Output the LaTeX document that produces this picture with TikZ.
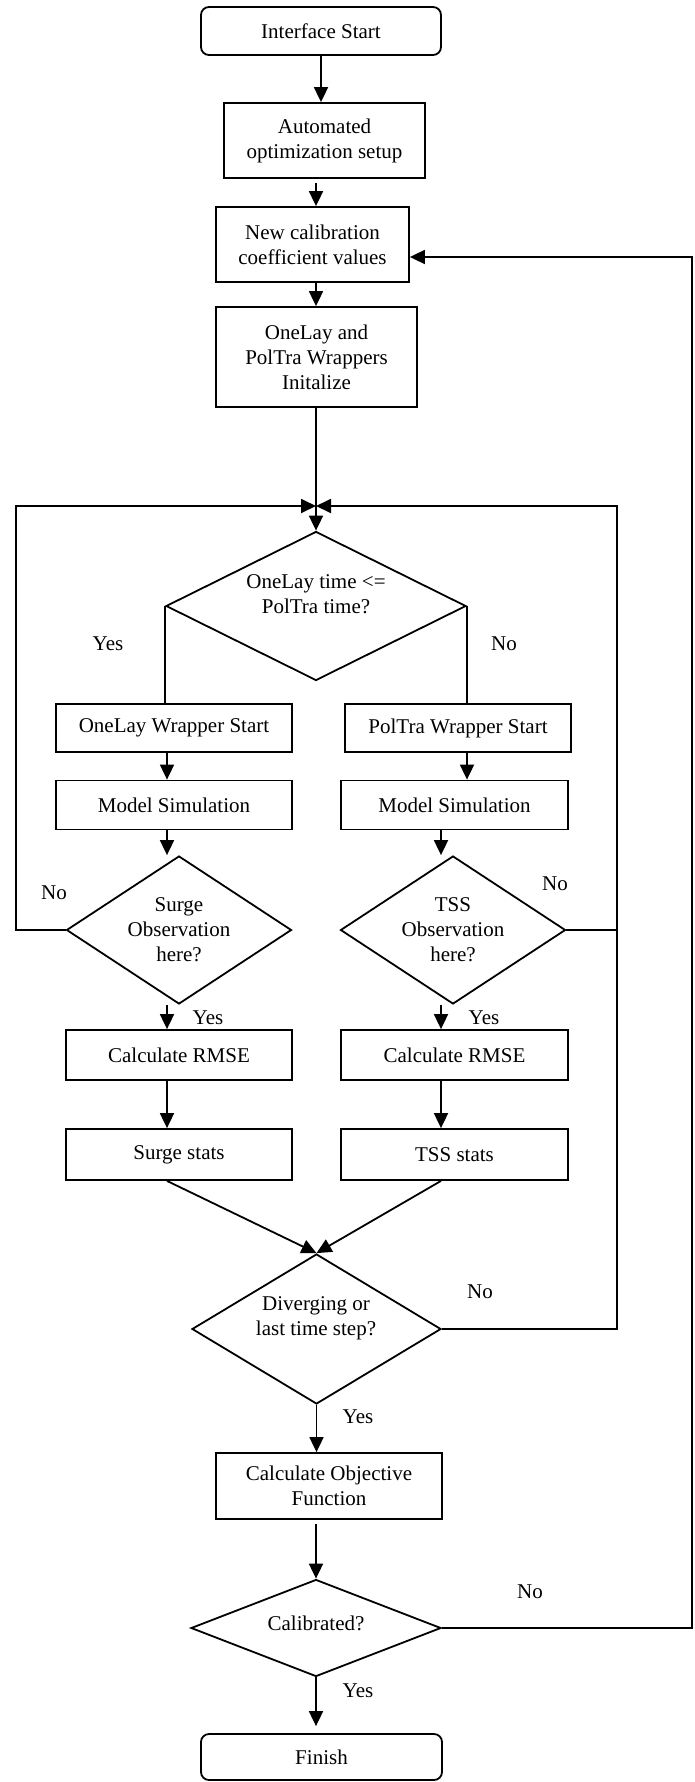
\documentclass[tikz,border=0pt]{standalone}
\usepackage{fontspec}
\setmainfont{Liberation Serif}
\usetikzlibrary{shapes.geometric,arrows.meta,calc}
\begin{document}
\begin{tikzpicture}[x=1pt,y=-1pt,
  txtfont/.style={font=\fontsize{21}{25}\selectfont},
  base/.style={draw, line width=1.8pt, inner sep=0pt, align=center, txtfont},
  box/.style={base, rectangle},
  rbox/.style={base, rectangle, rounded corners=8pt},
  dia/.style={draw, line width=1.8pt, diamond, inner sep=0pt},
  dtext/.style={inner sep=0pt, align=center, txtfont},
  lbl/.style={inner sep=0pt, txtfont},
  arr/.style={line width=1.8pt, -{Triangle[length=15pt,width=14pt]}},
  ln/.style={line width=1.8pt},
]
\useasboundingbox (0,0) rectangle (694,1782);

% guide coordinates
\coordinate (ax) at (316,0);
\coordinate (lx) at (167,0);
\coordinate (rx) at (467,0);
\coordinate (rx2) at (441,0);
\coordinate (lft) at (16,0);
\coordinate (rgt) at (617,0);
\coordinate (j) at (316,506);
\coordinate (far) at (692,257);

% nodes
\node[rbox, minimum width=240pt, minimum height=48pt] (start) at (321,31) {Interface Start};
\node[box, minimum width=201pt, minimum height=75pt] (auto) at (324.5,140.5) {Automated\\optimization setup};
\node[box, minimum width=193pt, minimum height=75pt] (newcal) at (312.5,244.5) {New calibration\\coefficient values};
\node[box, minimum width=201pt, minimum height=100pt] (init) at (316.5,357) {OneLay and\\PolTra Wrappers\\Initalize};

\node[dia, minimum width=300pt, minimum height=149pt] (d1) at (316,606) {};
\node[dtext] (d1t) at (316,594) {OneLay time <=\\PolTra time?};

\node[box, minimum width=236pt, minimum height=48pt] (ow) at (174,728) {OneLay Wrapper Start};
\node[box, minimum width=226pt, minimum height=48pt] (pw) at (458,728) {PolTra Wrapper Start};
\node[box, minimum width=236pt, minimum height=49pt] (ms1) at (174,805) {Model Simulation};
\node[box, minimum width=227pt, minimum height=49pt] (ms2) at (454.5,805) {Model Simulation};

\node[dia, minimum width=225pt, minimum height=148pt] (surge) at (179,930) {};
\node[dtext] (surget) at (179,930) {Surge\\Observation\\here?};
\node[dia, minimum width=225pt, minimum height=148pt] (tss) at (453,930) {};
\node[dtext] (tsst) at (453,930) {TSS\\Observation\\here?};

\node[box, minimum width=226pt, minimum height=50pt] (rmse1) at (179,1055) {Calculate RMSE};
\node[box, minimum width=227pt, minimum height=50pt] (rmse2) at (454.5,1055) {Calculate RMSE};
\node[box, minimum width=226pt, minimum height=51pt] (stats1) at (179,1154.5) {Surge stats};
\node[box, minimum width=227pt, minimum height=51pt] (stats2) at (454.5,1154.5) {TSS stats};

\node[dia, minimum width=249pt, minimum height=150pt] (div) at (316.5,1329) {};
\node[dtext] (divt) at (316,1318) {Diverging or\\last time step?};

\node[box, minimum width=226pt, minimum height=66pt] (obj) at (329,1486) {Calculate Objective\\Function};

\node[dia, minimum width=250pt, minimum height=97pt] (cal) at (316,1628) {};
\node[dtext] (calt) at (316,1623) {Calibrated?};

\node[rbox, minimum width=241pt, minimum height=46pt] (finish) at (321.5,1757) {Finish};

% labels
\node[lbl] (y1) at (108,644) {Yes};
\node[lbl] (n1) at (504,644) {No};
\node[lbl] (n2) at (54,893) {No};
\node[lbl] (n3) at (555,884) {No};
\node[lbl] (y2) at (208,1018) {Yes};
\node[lbl] (y3) at (484,1018) {Yes};
\node[lbl] (n4) at (480,1292) {No};
\node[lbl] (y4) at (358,1417) {Yes};
\node[lbl] (n5) at (530,1592) {No};
\node[lbl] (y5) at (358,1691) {Yes};

% connectors
\draw[arr] (start.south) -- (start.south |- auto.north);
\draw[arr, shorten <=4pt] (auto.south -| ax) -- (newcal.north -| ax);
\draw[arr] (newcal.south -| ax) -- (init.north -| ax);
\draw[arr] (init.south -| ax) -- (d1.north);

\draw[arr] (surge.west) -- (surge.west -| lft) -- (lft |- j) -- (j);
\draw[ln] (tss.east) -- (tss.east -| rgt);
\draw[arr] (div.east) -- (div.east -| rgt) -- (rgt |- j) -- (j);

\draw[ln] (d1.west) -- (d1.west |- ow.north);
\draw[ln] (d1.east) -- (d1.east |- pw.north);

\draw[arr] (ow.south -| lx) -- (ms1.north -| lx);
\draw[arr] (pw.south -| rx) -- (ms2.north -| rx);
\draw[arr] (ms1.south -| lx) -- (lx |- surge.north);
\draw[arr] (ms2.south -| rx2) -- (rx2 |- tss.north);
\draw[arr] (lx |- surge.south) -- (rmse1.north -| lx);
\draw[arr] (rx2 |- tss.south) -- (rmse2.north -| rx2);
\draw[arr] (rmse1.south -| lx) -- (stats1.north -| lx);
\draw[arr] (rmse2.south -| rx2) -- (stats2.north -| rx2);
\draw[arr] (stats1.south -| lx) -- (div.north);
\draw[arr] (stats2.south -| rx2) -- (div.north);

\draw[arr] (div.south) -- (div.south |- obj.north);
\draw[arr, shorten <=4pt] (obj.south -| ax) -- (cal.north);
\draw[arr, shorten >=7pt] (cal.south) -- (cal.south |- finish.north);

\draw[arr] (cal.east) -- (cal.east -| far) -- (far) -- (far -| newcal.east);
\end{tikzpicture}
\end{document}
